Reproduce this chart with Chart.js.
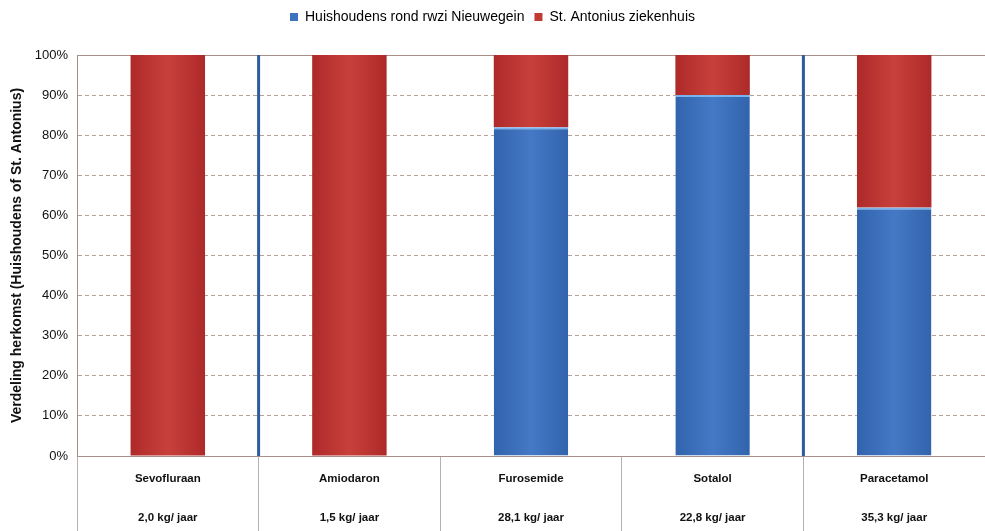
<!DOCTYPE html>
<html>
<head>
<meta charset="utf-8">
<script src="https://cdn.jsdelivr.net/npm/chart.js@4/dist/chart.umd.min.js"></script>
<style>
  html, body { margin: 0; padding: 0; background: #fff; }
  #wrap { width: 985px; height: 531px; }
</style>
</head>
<body>
<div id="wrap"><canvas id="herkomst"></canvas></div>
<script>
const stoffen = ["Sevofluraan", "Amiodaron", "Furosemide", "Sotalol", "Paracetamol"];
const vrachten = ["2,0 kg/ jaar", "1,5 kg/ jaar", "28,1 kg/ jaar", "22,8 kg/ jaar", "35,3 kg/ jaar"];
const huishoudens = [0, 0, 82, 90, 62];
const ziekenhuis = [100, 100, 18, 10, 38];
const yTicks = [0, 10, 20, 30, 40, 50, 60, 70, 80, 90, 100];
// scheidingslijnen na deze categorieën
const scheidingNa = [0, 3];

const lijnKleur = "#a89088";
const rasterKleur = "#b8a198";

// horizontale verloop per staaf, donkerder aan de randen
function staafKleur(rand, midden) {
  return (ctx) => {
    const chart = ctx.chart;
    const x = chart.scales.x;
    if (ctx.dataIndex === undefined || !x || !chart.chartArea) return midden;
    const px = x.getPixelForValue(ctx.dataIndex);
    const half = x.width / stoffen.length * 0.41 / 2;
    const g = chart.ctx.createLinearGradient(px - half, 0, px + half, 0);
    g.addColorStop(0, rand);
    g.addColorStop(0.5, midden);
    g.addColorStop(1, rand);
    return g;
  };
}

const scheidingen = {
  id: "scheidingen",
  afterDatasetsDraw(chart) {
    const { ctx, chartArea, scales } = chart;
    ctx.save();
    ctx.strokeStyle = "#2e5c9c";
    ctx.lineWidth = 3;
    scheidingNa.forEach((i) => {
      const xp = (scales.x.getPixelForValue(i) + scales.x.getPixelForValue(i + 1)) / 2;
      ctx.beginPath();
      ctx.moveTo(xp, chartArea.top);
      ctx.lineTo(xp, chartArea.bottom);
      ctx.stroke();
    });
    ctx.restore();
  },
};

const legendaHoogte = {
  id: "legendaHoogte",
  beforeInit(chart) {
    const fit = chart.legend.fit;
    chart.legend.fit = function () {
      fit.bind(chart.legend)();
      this.height = 55;
    };
  },
};

new Chart(document.getElementById("herkomst"), {
  type: "bar",
  data: {
    labels: stoffen.map((s, i) => [s, vrachten[i]]),
    datasets: [
      {
        label: "Huishoudens rond rwzi Nieuwegein",
        data: huishoudens,
        backgroundColor: staafKleur("#3264ad", "#4479c6"),
        borderColor: "#78b4ee",
        borderWidth: { top: 2, left: 0, right: 0, bottom: 0 },
        borderSkipped: false,
      },
      {
        label: "St. Antonius ziekenhuis",
        data: ziekenhuis,
        backgroundColor: staafKleur("#ad2a2a", "#c9403a"),
        borderWidth: 0,
      },
    ],
  },
  options: {
    responsive: true,
    maintainAspectRatio: false,
    animation: false,
    datasets: {
      bar: { barPercentage: 0.41, categoryPercentage: 1.0 },
    },
    layout: { padding: 0 },
    plugins: {
      tooltip: { enabled: false },
      legend: {
        position: "top",
        align: "center",
        labels: {
          boxWidth: 8,
          boxHeight: 8,
          padding: 10,
          color: "#1a1a1a",
          font: { family: "Liberation Sans, Arial, sans-serif", size: 14 },
          generateLabels(chart) {
            const kleuren = ["#3d72c0", "#c23a35"];
            return chart.data.datasets.map((ds, i) => ({
              text: ds.label,
              fillStyle: kleuren[i],
              strokeStyle: kleuren[i],
              lineWidth: 0,
              datasetIndex: i,
            }));
          },
        },
      },
    },
    scales: {
      x: {
        stacked: true,
        afterFit(scale) { scale.height = 75; },
        grid: {
          offset: true,
          drawOnChartArea: false,
          drawTicks: true,
          tickLength: 75,
          color: "#b9b0ad",
          tickColor: "#b9b0ad",
        },
        border: { display: true, color: lijnKleur, width: 1 },
        ticks: {
          padding: -72,
          color: "#111",
          maxRotation: 0,
          autoSkip: false,
          font: { family: "Liberation Sans, Arial, sans-serif", size: 11.5, weight: "bold", lineHeight: "39px" },
        },
      },
      y: {
        stacked: true,
        min: 0,
        max: 100,
        afterFit(scale) { scale.width = 77; },
        afterBuildTicks(scale) { scale.ticks = yTicks.map((v) => ({ value: v })); },
        grid: {
          drawTicks: false,
          color: (ctx) => (ctx.tick && (ctx.tick.value === 0 || ctx.tick.value === 100) ? lijnKleur : rasterKleur),
          lineWidth: 1,
        },
        border: {
          display: true,
          color: lijnKleur,
          width: 1,
          dash: (ctx) => (ctx.tick && (ctx.tick.value === 0 || ctx.tick.value === 100) ? [] : [4, 3]),
        },
        ticks: {
          padding: 9,
          color: "#111",
          font: { family: "Liberation Sans, Arial, sans-serif", size: 13 },
          callback: (v) => v + "%",
        },
        title: {
          display: true,
          text: "Verdeling herkomst (Huishoudens of St. Antonius)",
          color: "#111",
          padding: { top: 9, bottom: 0 },
          font: { family: "Liberation Sans, Arial, sans-serif", size: 14, weight: "bold" },
        },
      },
    },
  },
  plugins: [scheidingen, legendaHoogte],
});
</script>
</body>
</html>
